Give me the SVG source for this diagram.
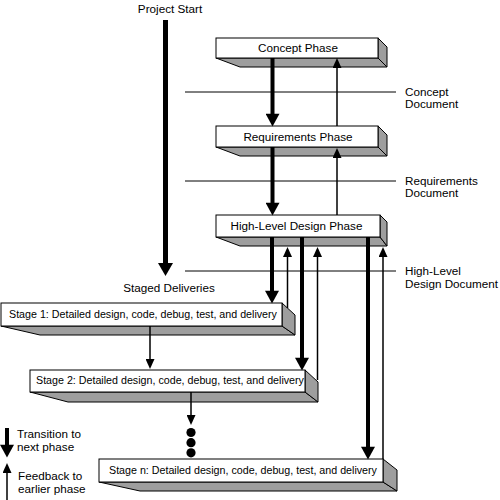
<svg xmlns="http://www.w3.org/2000/svg" width="500" height="500" viewBox="0 0 500 500">
<style>
text{font-family:"Liberation Sans",Arial,sans-serif;fill:#000}
.lbl{font-size:11.7px}
.stg{font-size:10.7px}
.front{fill:#fff;stroke:#000;stroke-width:1}
.side{fill:#9e9e9e;stroke:#000;stroke-width:1;stroke-linejoin:round}
.thick{stroke:#000;stroke-width:4;fill:none;marker-end:url(#hThick)}
.thin{stroke:#000;stroke-width:1.5;fill:none;marker-end:url(#hThin)}
.doc{stroke:#000;stroke-width:1}
</style>
<defs>
<marker id="hThick" markerUnits="userSpaceOnUse" markerWidth="14" markerHeight="14" viewBox="0 0 12 13" refX="4" refY="6.5" orient="auto"><path d="M0,0 L12,6.5 L0,13 z" fill="#000"/></marker>
<marker id="hThin" markerUnits="userSpaceOnUse" markerWidth="10" markerHeight="9" viewBox="0 0 10 9" refX="3" refY="4.5" orient="auto"><path d="M0,0 L10,4.5 L0,9 z" fill="#000"/></marker>
<marker id="hMain" markerUnits="userSpaceOnUse" markerWidth="13" markerHeight="15" viewBox="0 0 13 15" refX="4" refY="7.5" orient="auto"><path d="M0,0 L13,7.5 L0,15 z" fill="#000"/></marker>
</defs>

<g id="doc-lines">
<line class="doc" x1="185" y1="92" x2="396" y2="92"/>
<line class="doc" x1="185" y1="181" x2="396" y2="181"/>
<line class="doc" x1="185" y1="271" x2="396" y2="271"/>
<text class="lbl" x="405" y="96">Concept</text>
<text class="lbl" x="405" y="108">Document</text>
<text class="lbl" x="405" y="185">Requirements</text>
<text class="lbl" x="405" y="197">Document</text>
<text class="lbl" x="405" y="275">High-Level</text>
<text class="lbl" x="405" y="288">Design Document</text>
</g>

<g id="project-timeline">
<text class="lbl" x="170" y="13" text-anchor="middle">Project Start</text>
<line x1="165.5" y1="20" x2="165.5" y2="267" stroke="#000" stroke-width="5" marker-end="url(#hMain)"/>
<text class="lbl" x="169" y="292" text-anchor="middle">Staged Deliveries</text>
</g>

<g id="concept-phase">
<polygon class="side" points="216,58 378,58 387,67 240,67"/>
<polygon class="side" points="378,38 387,47 387,67 378,58"/>
<rect class="front" x="216" y="38" width="162" height="20"/>
<text class="lbl" x="298" y="52" text-anchor="middle">Concept Phase</text>
</g>

<g id="requirements-phase">
<polygon class="side" points="216,147 378,147 387,156 240,156"/>
<polygon class="side" points="378,126 387,135 387,156 378,147"/>
<rect class="front" x="216" y="126" width="162" height="21"/>
<text class="lbl" x="298" y="140.5" text-anchor="middle">Requirements Phase</text>
</g>

<g id="hld-phase">
<polygon class="side" points="216,237 380,237 387,246 240,246"/>
<polygon class="side" points="380,215 387,222 387,246 380,237"/>
<rect class="front" x="216" y="215" width="164" height="22"/>
<text class="lbl" x="296.5" y="230" text-anchor="middle">High-Level Design Phase</text>
</g>

<g id="stage-1">
<polygon class="side" points="1,326 282,326 295,335 40,335"/>
<polygon class="side" points="282,303 295,315 295,335 282,326"/>
<rect class="front" x="1" y="303" width="281" height="23"/>
<text class="stg" x="9" y="318">Stage 1: Detailed design, code, debug, test, and delivery</text>
</g>

<g id="stage-2">
<polygon class="side" points="30,392 305,392 318,402 68,402"/>
<polygon class="side" points="305,370 318,382 318,402 305,392"/>
<rect class="front" x="30" y="370" width="275" height="22"/>
<text class="stg" x="36" y="384">Stage 2: Detailed design, code, debug, test, and delivery</text>
</g>

<g id="stage-n">
<polygon class="side" points="99,482 383,482 397,491 140,491"/>
<polygon class="side" points="383,459 397,470 397,491 383,482"/>
<rect class="front" x="99" y="459" width="284" height="23"/>
<text class="stg" x="109" y="474">Stage n: Detailed design, code, debug, test, and delivery</text>
</g>

<g id="connectors">
<line class="thick" x1="272.5" y1="58" x2="272.5" y2="118"/>
<line class="thin" x1="337" y1="126" x2="337" y2="65"/>
<line class="thick" x1="272.5" y1="147" x2="272.5" y2="207"/>
<line class="thin" x1="337" y1="215" x2="337" y2="155"/>
<line class="thick" x1="272" y1="237" x2="272" y2="295"/>
<line class="thin" x1="287.5" y1="308" x2="287.5" y2="254"/>
<line class="thick" x1="302" y1="237" x2="302" y2="362"/>
<line class="thin" x1="317.5" y1="380" x2="317.5" y2="254"/>
<line class="thick" x1="368" y1="237" x2="368" y2="451"/>
<line class="thin" x1="383" y1="459" x2="383" y2="254"/>
<line class="thin" x1="150" y1="326" x2="150" y2="362"/>
<line class="thin" x1="191" y1="392" x2="191" y2="418"/>
<circle cx="191" cy="432.5" r="4.6" fill="#000"/>
<circle cx="191" cy="442.7" r="4.6" fill="#000"/>
<circle cx="191" cy="452.8" r="4.6" fill="#000"/>
</g>

<g id="legend">
<line class="thick" x1="7" y1="428" x2="7" y2="449"/>
<text class="lbl" x="17" y="438">Transition to</text>
<text class="lbl" x="17" y="451">next phase</text>
<line class="thin" x1="7" y1="500" x2="7" y2="470"/>
<text class="lbl" x="18" y="480">Feedback to</text>
<text class="lbl" x="18" y="493">earlier phase</text>
</g>
</svg>
